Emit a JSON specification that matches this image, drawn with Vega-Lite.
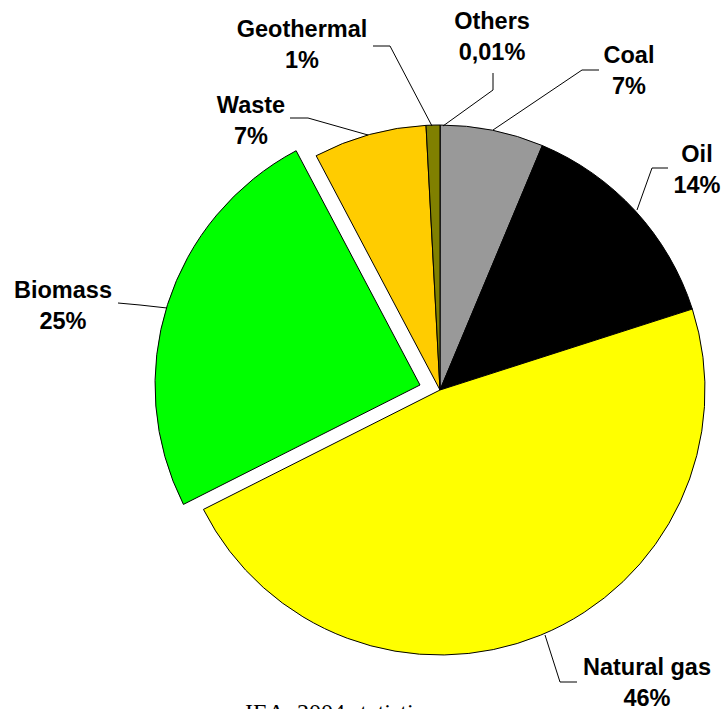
{
  "$schema": "https://vega.github.io/schema/vega-lite/v6.json",
  "width": 724,
  "height": 709,
  "autosize": {"type": "none"},
  "padding": 0,
  "background": "white",
  "config": {"view": {"stroke": null}},
  "datasets": {
    "shares": [
      {"idx": 0, "name": "Others", "value": 0.01},
      {"idx": 1, "name": "Coal", "value": 6.3},
      {"idx": 2, "name": "Oil", "value": 13.75},
      {"idx": 3, "name": "Natural gas", "value": 47.5},
      {"idx": 4, "name": "Biomass", "value": 24.7},
      {"idx": 5, "name": "Waste", "value": 6.9},
      {"idx": 6, "name": "Geothermal", "value": 0.84}
    ],
    "labels": [
      {"name": "Geothermal", "txt": "Geothermal\n1%", "lx": -138, "ly": 360},
      {"name": "Others", "txt": "Others\n0,01%", "lx": 52, "ly": 368},
      {"name": "Coal", "txt": "Coal\n7%", "lx": 189, "ly": 334},
      {"name": "Oil", "txt": "Oil\n14%", "lx": 257, "ly": 235},
      {"name": "Waste", "txt": "Waste\n7%", "lx": -189, "ly": 284},
      {"name": "Biomass", "txt": "Biomass\n25%", "lx": -377, "ly": 99},
      {"name": "Natural gas", "txt": "Natural gas\n46%", "lx": 207, "ly": -278}
    ],
    "leaders": [
      {"name": "Geothermal", "k": 0, "px": -67, "py": 344},
      {"name": "Geothermal", "k": 1, "px": -50, "py": 344},
      {"name": "Geothermal", "k": 2, "px": -8, "py": 264},
      {"name": "Others", "k": 0, "px": 53, "py": 317},
      {"name": "Others", "k": 1, "px": 53, "py": 300},
      {"name": "Others", "k": 2, "px": 3, "py": 264},
      {"name": "Coal", "k": 0, "px": 159, "py": 320},
      {"name": "Coal", "k": 1, "px": 142, "py": 320},
      {"name": "Coal", "k": 2, "px": 53, "py": 260},
      {"name": "Oil", "k": 0, "px": 228, "py": 222},
      {"name": "Oil", "k": 1, "px": 212, "py": 222},
      {"name": "Oil", "k": 2, "px": 197, "py": 180},
      {"name": "Waste", "k": 0, "px": -150, "py": 272},
      {"name": "Waste", "k": 1, "px": -132, "py": 272},
      {"name": "Waste", "k": 2, "px": -72, "py": 255},
      {"name": "Biomass", "k": 0, "px": -322, "py": 87},
      {"name": "Biomass", "k": 1, "px": -300, "py": 85},
      {"name": "Biomass", "k": 2, "px": -273, "py": 82},
      {"name": "Natural gas", "k": 0, "px": 137, "py": -292},
      {"name": "Natural gas", "k": 1, "px": 120, "py": -292},
      {"name": "Natural gas", "k": 2, "px": 105, "py": -245}
    ],
    "source": [
      {"txt": "IEA, 2004 statistics", "sx": -195, "sy": -311}
    ]
  },
  "layer": [
    {
      "data": {"name": "shares"},
      "transform": [
        {"stack": "value", "groupby": [], "sort": [{"field": "idx", "order": "ascending"}], "as": ["s0", "s1"]},
        {"filter": "datum.name !== 'Biomass'"}
      ],
      "mark": {"type": "arc", "outerRadius": 265, "stroke": "black", "strokeWidth": 1},
      "encoding": {
        "theta": {"field": "s0", "type": "quantitative", "scale": {"domain": [0, 100]}},
        "theta2": {"field": "s1"},
        "x": {"datum": 0, "type": "quantitative", "scale": {"domain": [-440, 284], "nice": false, "zero": false}, "axis": null},
        "y": {"datum": 0, "type": "quantitative", "scale": {"domain": [-319, 390], "nice": false, "zero": false}, "axis": null},
        "color": {
          "field": "name", "type": "nominal", "legend": null,
          "scale": {
            "domain": ["Others", "Coal", "Oil", "Natural gas", "Biomass", "Waste", "Geothermal"],
            "range": ["#ffffff", "#999999", "#000000", "#ffff00", "#00ff00", "#ffcc00", "#808000"]
          }
        }
      }
    },
    {
      "data": {"name": "shares"},
      "transform": [
        {"stack": "value", "groupby": [], "sort": [{"field": "idx", "order": "ascending"}], "as": ["s0", "s1"]},
        {"filter": "datum.name === 'Biomass'"}
      ],
      "mark": {"type": "arc", "outerRadius": 265, "stroke": "black", "strokeWidth": 1},
      "encoding": {
        "theta": {"field": "s0", "type": "quantitative"},
        "theta2": {"field": "s1"},
        "x": {"datum": -20, "type": "quantitative", "axis": null},
        "y": {"datum": 5, "type": "quantitative", "axis": null},
        "color": {"field": "name", "type": "nominal", "legend": null}
      }
    },
    {
      "data": {"name": "leaders"},
      "mark": {"type": "line", "color": "black", "strokeWidth": 1},
      "encoding": {
        "x": {"field": "px", "type": "quantitative", "axis": null},
        "y": {"field": "py", "type": "quantitative", "axis": null},
        "detail": {"field": "name"},
        "order": {"field": "k", "type": "quantitative"}
      }
    },
    {
      "data": {"name": "labels"},
      "mark": {"type": "text", "font": "Liberation Sans", "fontWeight": "bold", "fontSize": 23.5, "lineHeight": 31, "lineBreak": "\n", "align": "center", "baseline": "middle", "color": "black"},
      "encoding": {
        "x": {"field": "lx", "type": "quantitative", "axis": null},
        "y": {"field": "ly", "type": "quantitative", "axis": null},
        "text": {"field": "txt"}
      }
    },
    {
      "data": {"name": "source"},
      "mark": {"type": "text", "font": "Liberation Serif", "fontSize": 24, "align": "left", "baseline": "top", "color": "black"},
      "encoding": {
        "x": {"field": "sx", "type": "quantitative", "axis": null},
        "y": {"field": "sy", "type": "quantitative", "axis": null},
        "text": {"field": "txt"}
      }
    }
  ]
}
